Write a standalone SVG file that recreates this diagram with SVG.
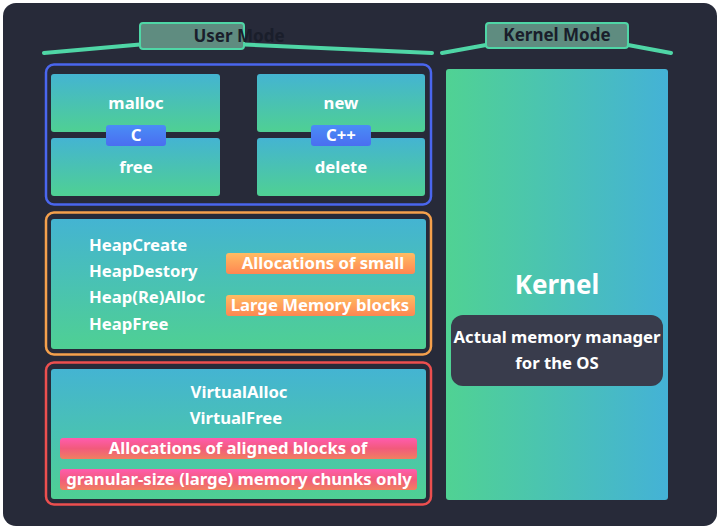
<svg xmlns="http://www.w3.org/2000/svg" width="720" height="531" viewBox="0 0 720 531">
<defs>
<linearGradient id="gv" x1="0" y1="0" x2="0" y2="1"><stop offset="0" stop-color="#44b4d2"/><stop offset="1" stop-color="#4fd093"/></linearGradient>
<linearGradient id="gh" x1="0" y1="0" x2="1" y2="0"><stop offset="0" stop-color="#50d293"/><stop offset="1" stop-color="#44b2d6"/></linearGradient>
<linearGradient id="gb" x1="0" y1="0" x2="0" y2="1"><stop offset="0" stop-color="#4a8cf6"/><stop offset="1" stop-color="#4a6ef0"/></linearGradient>
<linearGradient id="go" x1="0" y1="0" x2="0" y2="1"><stop offset="0" stop-color="#ffbc62"/><stop offset="1" stop-color="#ff8652"/></linearGradient>
<linearGradient id="gp" x1="0" y1="0" x2="0" y2="1"><stop offset="0" stop-color="#ff5cae"/><stop offset="0.5" stop-color="#f25a7c"/><stop offset="1" stop-color="#f08060"/></linearGradient>
</defs>
<style>
text{font-family:"Noto Sans","Open Sans","DejaVu Sans",sans-serif;font-weight:bold;fill:#ffffff;font-size:16.7px}
.c{text-anchor:middle}
.hd{fill:#1a1e2b;font-size:17px}
.tab{fill:#5f8c80;stroke:#4fd6a6;stroke-width:2}
.tl{stroke:#4fd6a6;stroke-width:4;fill:none;stroke-linecap:round}
.cell{fill:url(#gv)}
.badgeB{fill:url(#gb)}
.badgeO{fill:url(#go)}
.badgeP{fill:url(#gp)}
</style>
<rect x="0" y="0" width="720" height="531" fill="#ffffff"/>
<rect x="3" y="3" width="714" height="523" rx="13" fill="#272a39"/>

<g id="user-mode-header">
<path class="tl" d="M44 53 L140 44.5 M244 44.5 L432 53"/>
<rect class="tab" x="140" y="23" width="104" height="26" rx="3"/>
<text class="hd c" x="239" y="42">User Mode</text>
</g>
<g id="kernel-mode-header">
<path class="tl" d="M442 53 L486 45 M628 45 L671 53"/>
<rect class="tab" x="486" y="23" width="142" height="25" rx="3"/>
<text class="hd c" x="557" y="41">Kernel Mode</text>
</g>

<g id="c-cpp-group">
<rect x="46" y="64.5" width="385" height="140" rx="8" fill="none" stroke="#4a66ee" stroke-width="2.5"/>
<rect class="cell" x="51" y="74" width="169" height="58" rx="3"/>
<rect class="cell" x="51" y="138" width="169" height="58" rx="3"/>
<rect class="cell" x="257" y="74" width="168" height="58" rx="3"/>
<rect class="cell" x="257" y="138" width="168" height="58" rx="3"/>
<text class="c" x="136" y="109">malloc</text>
<text class="c" x="136" y="173">free</text>
<text class="c" x="341" y="109">new</text>
<text class="c" x="341" y="173">delete</text>
<rect class="badgeB" x="106" y="125" width="60" height="21" rx="3"/>
<text class="c" x="136" y="141">C</text>
<rect class="badgeB" x="311" y="125" width="60" height="21" rx="3"/>
<text class="c" x="341" y="141">C++</text>
</g>

<g id="heap-group">
<rect x="46" y="212.5" width="385" height="142" rx="8" fill="none" stroke="#f5a04c" stroke-width="2.5"/>
<rect class="cell" x="51" y="219" width="375" height="130" rx="3"/>
<text x="89" y="251">HeapCreate</text>
<text x="89" y="277">HeapDestory</text>
<text x="89" y="303">Heap(Re)Alloc</text>
<text x="89" y="330">HeapFree</text>
<rect class="badgeO" x="226" y="253" width="189" height="21" rx="3"/>
<text class="c" x="323" y="269">Allocations of small</text>
<rect class="badgeO" x="226" y="295" width="189" height="21" rx="3"/>
<text class="c" x="320" y="311">Large Memory blocks</text>
</g>

<g id="virtual-group">
<rect x="46" y="362.5" width="385" height="142" rx="8" fill="none" stroke="#ec4f4f" stroke-width="2.5"/>
<rect class="cell" x="51" y="369" width="375" height="130" rx="3"/>
<text class="c" x="239" y="398">VirtualAlloc</text>
<text class="c" x="236" y="424">VirtualFree</text>
<rect class="badgeP" x="60" y="438" width="357" height="21" rx="3"/>
<text class="c" x="238" y="454">Allocations of aligned blocks of</text>
<rect class="badgeP" x="60" y="469" width="357" height="21" rx="3"/>
<text class="c" x="239" y="485">granular-size (large) memory chunks only</text>
</g>

<g id="kernel">
<rect x="446" y="69" width="222" height="431" rx="3" fill="url(#gh)"/>
<text class="c" x="557" y="294" style="font-size:26px">Kernel</text>
<rect x="451" y="315" width="212" height="71" rx="12" fill="#393c4c"/>
<text class="c" x="557" y="343">Actual memory manager</text>
<text class="c" x="557" y="369">for the OS</text>
</g>
</svg>
